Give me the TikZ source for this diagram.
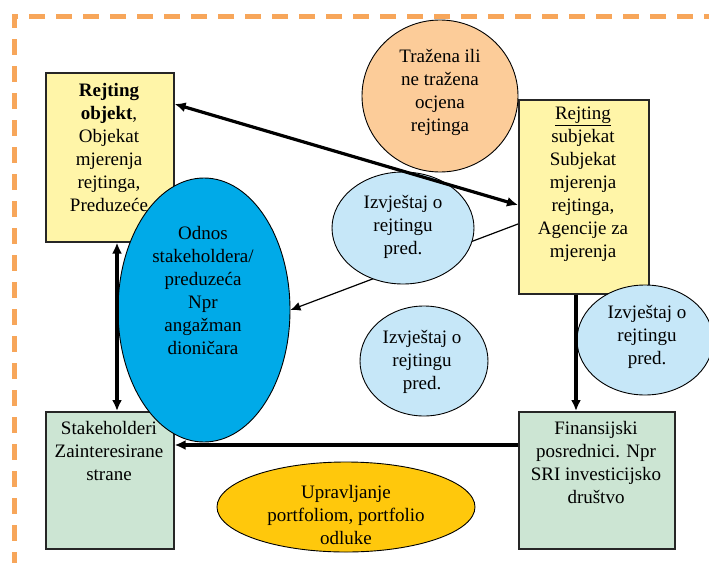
\documentclass[tikz,border=0pt]{standalone}
\usepackage{fontspec}
\setmainfont{Liberation Serif}
\usetikzlibrary{arrows.meta,calc,shapes.geometric}
\definecolor{boxyellow}{HTML}{FFF5A8}
\definecolor{boxgreen}{HTML}{CCE5D3}
\definecolor{ellorange}{HTML}{FCCC99}
\definecolor{elllight}{HTML}{C6E7F8}
\definecolor{ellblue}{HTML}{00AAE8}
\definecolor{ellgold}{HTML}{FFC80C}
\definecolor{frameorange}{HTML}{F7A65A}
\begin{document}
\begin{tikzpicture}[x=1pt,y=-1pt,
  boxbase/.style={draw=black!85,line width=1.6pt,rectangle,inner sep=0pt,anchor=north west},
  yellowbox/.style={boxbase,fill=boxyellow},
  greenbox/.style={boxbase,fill=boxgreen},
  ell/.style={draw=black,line width=0.9pt,ellipse,inner sep=0pt},
  txt/.style={align=center,inner sep=0pt,font=\fontsize{19}{23}\selectfont},
  thick arrow/.style={line width=3.2pt,-{Latex[length=11pt,width=10pt]}},
  thick double/.style={line width=3.2pt,{Latex[length=11pt,width=10pt]}-{Latex[length=11pt,width=10pt]}},
  thin arrow/.style={line width=1.2pt,-{Latex[length=10pt,width=9pt]}},
  frameline/.style={draw=frameorange,line width=5pt,dash pattern=on 16pt off 11pt}
]
\useasboundingbox (0,0) rectangle (709,562);
\clip (0,0) rectangle (709,562);

% dashed frame (top and left edges)
\coordinate (fr1) at (720,16);
\coordinate (fr2) at (14,16);
\coordinate (fr3) at (14,575);
\draw[frameline] (fr1) -- (fr2) -- (fr3);

% boxes
\node[yellowbox,minimum width=128pt,minimum height=169pt] (obj) at (45,72) {};
\node[yellowbox,minimum width=130pt,minimum height=194pt] (subj) at (518,99) {};
\node[greenbox,minimum width=128pt,minimum height=137pt] (stake) at (45,411) {};
\node[greenbox,minimum width=156pt,minimum height=137pt] (fin) at (518,411) {};

% helper coordinates
\coordinate (cx1) at (117,0);
\coordinate (cx2) at (576,0);
\coordinate (cy1) at (0,104);
\coordinate (cy2) at (0,205);
\coordinate (cy3) at (0,224);
\coordinate (cy4) at (0,445);

% thin line behind the light-blue ellipse
\node[ell,fill=ellblue,minimum width=172pt,minimum height=264pt] (blue) at (204,310) {};
\draw[thin arrow] (subj.west |- cy3) -- (blue.east);

% ellipses
\node[ell,fill=ellorange,minimum width=156pt,minimum height=152pt] (req) at (440,96) {};
\node[ell,fill=elllight,minimum width=142pt,minimum height=112pt] (rep1) at (403,228) {};
\node[ell,fill=elllight,minimum width=128pt,minimum height=110pt] (rep2) at (424,361) {};
\node[ell,fill=elllight,minimum width=136pt,minimum height=110pt] (rep3) at (645,340) {};
\node[ell,fill=ellgold,minimum width=258pt,minimum height=90pt] (port) at (346,507) {};

% connectors
\draw[thick double] (obj.east |- cy1) -- (subj.west |- cy2);
\draw[thick double] (obj.south -| cx1) -- (stake.north -| cx1);
\draw[thick arrow] (subj.south -| cx2) -- (fin.north -| cx2);
\draw[thick arrow] (fin.west |- cy4) -- (stake.east |- cy4);

% texts
\node[txt] (objtxt) at (109,147) {\textbf{Rejting}\\\textbf{objekt},\\Objekat\\mjerenja\\rejtinga,\\Preduzeće};
\node[txt] (subjtxt) at (583,184) {\underline{Rejting}\\subjekat\\Subjekat\\mjerenja\\rejtinga,\\Agencije za\\mjerenja};
\node[txt] (stktxt) at (109,451) {Stakeholderi\\Zainteresirane\\strane};
\node[txt] (fintxt) at (596,462) {Finansijski\\posrednici. Npr\\SRI investicijsko\\društvo};
\node[txt] (reqtxt) at (440,92) {Tražena ili\\ne tražena\\ocjena\\rejtinga};
\node[txt] (bluetxt) at (203,290) {Odnos\\stakeholdera/\\preduzeća\\Npr\\angažman\\dioničara};
\node[txt] (rep1txt) at (403,227) {Izvještaj o\\rejtingu\\pred.};
\node[txt] (rep2txt) at (422,362) {Izvještaj o\\rejtingu\\pred.};
\node[txt] (rep3txt) at (647,337) {Izvještaj o\\rejtingu\\pred.};
\node[txt] (porttxt) at (346,515) {Upravljanje\\portfoliom, portfolio\\odluke};
\end{tikzpicture}
\end{document}
